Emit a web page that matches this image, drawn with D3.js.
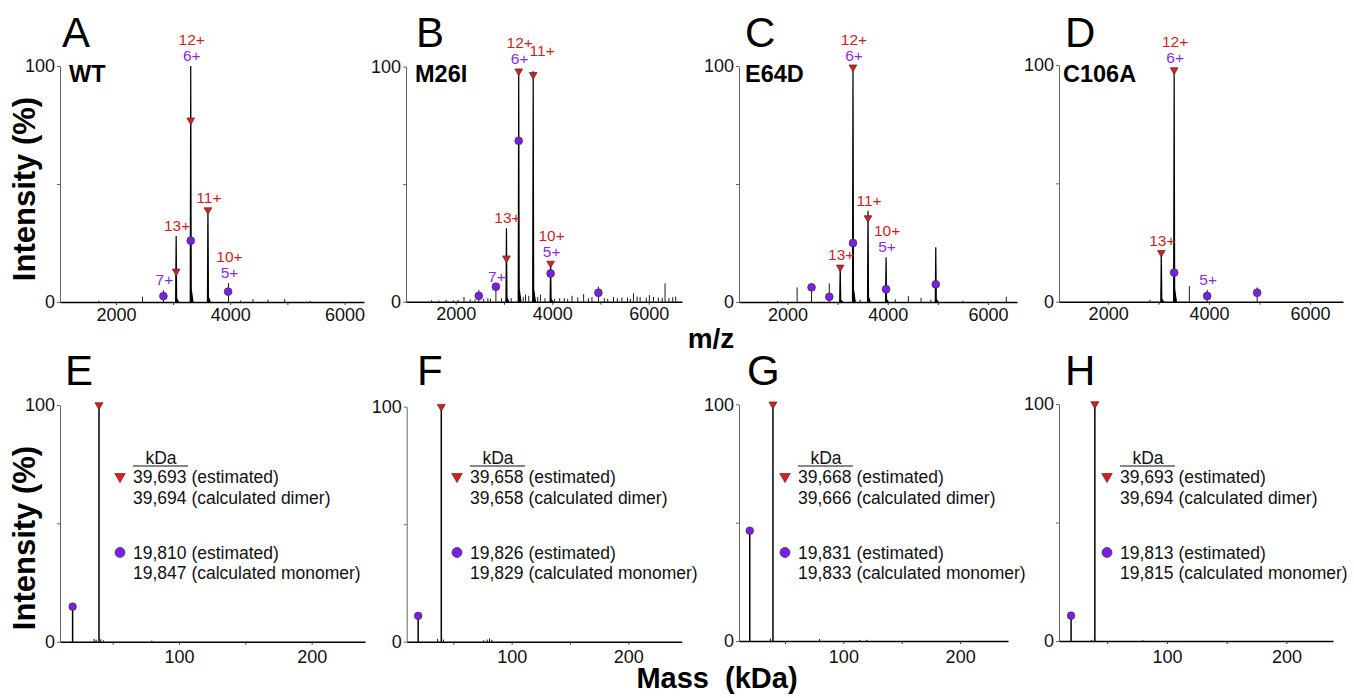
<!DOCTYPE html>
<html>
<head>
<meta charset="utf-8">
<script src="https://cdn.jsdelivr.net/npm/d3@7"></script>
<style>
  body { margin: 0; background: #fff; }
  svg { font-family: "Liberation Sans", Arial, sans-serif; }
</style>
</head>
<body>
<script>
// ---- data ----
const variants = ["WT", "M26I", "E64D", "C106A"];
const topLetters = ["A", "B", "C", "D"];
const bottomLetters = ["E", "F", "G", "H"];

// m/z spectra: [m/z, intensity %]
const wtPeaks = [[1700, 0.4], [2466, 2.2], [2831, 5], [3054, 28], [3309, 100], [3610, 39.7], [3970, 8],
  [4180, 0.6], [4398, 1.2], [4660, 1], [4953, 1.3], [5400, 0.4]];
const m26iPeaks = [[1500, 0.6], [1650, 0.5], [1800, 0.7], [1950, 0.6], [2050, 0.8], [2172, 2], [2300, 1],
  [2400, 0.9], [2479, 5], [2580, 1.2], [2667, 1.5], [2720, 1.3], [2833, 6.4], [2950, 1.5], [3052, 31.2],
  [3150, 1.5], [3306, 99], [3400, 2], [3446, 3], [3515, 2.5], [3606, 98], [3700, 2], [3756, 3], [3850, 1.5],
  [3967, 17], [4050, 1.2], [4155, 1.5], [4250, 1.5], [4320, 1.2], [4411, 2.5], [4530, 1.8], [4651, 3.2],
  [4750, 1.5], [4824, 2], [4958, 6.4], [5080, 1.5], [5150, 1.2], [5271, 2], [5350, 1.5], [5444, 1.8],
  [5560, 1.8], [5620, 1.2], [5684, 3.5], [5760, 2.2], [5822, 2], [5950, 1.7], [6014, 2.8], [6100, 2],
  [6200, 1.8], [6280, 1.6], [6339, 7.8], [6420, 1.5], [6498, 2], [6560, 2.2]];
const e64dPeaks = [[1800, 0.4], [2192, 6.2], [2480, 8], [2834, 7.9], [3052, 15.7], [3307, 100], [3450, 1],
  [3607, 38.7], [3967, 19], [4150, 1.2], [4412, 2.5], [4666, 1.8], [4860, 1], [4959, 23.2], [5500, 0.5],
  [6366, 2.2]];
const c106aPeaks = [[2830, 0.8], [3054, 21.5], [3309, 98.6], [3610, 6.6], [3964, 5], [4954, 6]];

// dimer (triangle) and monomer (circle) markers: [m/z, intensity %]
const wtDimer = [[3054, 13], [3309, 77], [3610, 39]];
const wtMonomer = [[2831, 2.5], [3309, 26], [3963, 4.4]];
const m26iDimer = [[3052, 18.5], [3306, 98], [3606, 96.5], [3967, 16.3]];
const m26iMonomer = [[2479, 2.5], [2833, 6.4], [3306, 68.4], [3967, 12], [4958, 3.8]];
const e64dDimer = [[3052, 14.7], [3307, 99.5], [3607, 35.6]];
const e64dMonomer = [[2480, 6.2], [2834, 2.2], [3307, 25], [3967, 5.4], [4959, 7.5]];
const c106aDimer = [[3054, 20.7], [3309, 97.9]];
const c106aMonomer = [[3309, 12.3], [3964, 2.4], [4954, 3.8]];

// charge labels: [m/z, dimer charge, monomer charge]
const wtCharges = [[3054, "13+", null], [3309, "12+", "6+"], [3610, "11+", null], [3970, "10+", "5+"], [2831, null, "7+"]];
const m26iCharges = [[3052, "13+", null], [3306, "12+", "6+"], [3606, "11+", null], [3967, "10+", "5+"], [2833, null, "7+"]];
const e64dCharges = [[3052, "13+", null], [3307, "12+", "6+"], [3607, "11+", null], [3967, "10+", "5+"]];
const c106aCharges = [[3054, "13+", null], [3309, "12+", "6+"], [3964, null, "5+"]];

// deconvoluted mass spectra (kDa)
const monomerMass = [19.810, 19.826, 19.831, 19.813];
const dimerMass = [39.693, 39.658, 39.668, 39.693];
const monomerIntensity = [14.8, 11, 46.6, 10.7];
const massNoise = [
  [[36, 1.2], [37.5, 0.8], [41, 1], [43, 0.6], [79.5, 0.5]],
  [[36.5, 1.2], [41.5, 0.9], [76, 0.6], [79, 0.9], [81, 1.3], [83, 0.8]],
  [[37.5, 1], [79.5, 0.8], [114, 0.4], [120, 0.5]],
  [[37, 0.5], [80, 0.3]]
];
const dimerEstimated = ["39,693", "39,658", "39,668", "39,693"];
const dimerCalculated = ["39,694", "39,658", "39,666", "39,694"];
const monomerEstimated = ["19,810", "19,826", "19,831", "19,813"];
const monomerCalculated = ["19,847", "19,829", "19,833", "19,815"];

const mzTicks = [2000, 3000, 4000, 5000, 6000];
const massTicks = [50, 100, 150, 200];

// ---- layout ----
const topFrames = [
  {left: 60, right: 364, top: 66, bottom: 302, lo: 1022, hi: 6340, letterX: 62, nameX: 69},
  {left: 406, right: 682, top: 66.5, bottom: 301.7, lo: 970, hi: 6690, letterX: 416, nameX: 415},
  {left: 739, right: 1017, top: 66, bottom: 302, lo: 1032, hi: 6580, letterX: 745, nameX: 745},
  {left: 1059, right: 1343, top: 65, bottom: 301.7, lo: 1026, hi: 6656, letterX: 1065, nameX: 1063}
];
const bottomFrames = [
  {left: 60, right: 365, top: 405, bottom: 641.7, lo: 10.3, hi: 240.2, letterX: 65, legendX: 133},
  {left: 406.7, right: 681.7, top: 406.7, bottom: 641.7, lo: 10, hi: 245.8, letterX: 417, legendX: 470},
  {left: 739, right: 1008, top: 404.3, bottom: 641, lo: 10.6, hi: 241, letterX: 747, legendX: 798},
  {left: 1059, right: 1333, top: 404, bottom: 641, lo: 9.7, hi: 239, letterX: 1065, legendX: 1120}
];
// label shifts (px) where the figure moves a label off its peak
const labelNudge = {"1:11+": [8, -10]};

const red = "#e31a1c", redText = "#cc1f1f";
const purple = "#7b1fe8", purpleText = "#8a2be2";

const svg = d3.select("body").append("svg")
  .attr("width", 1354)
  .attr("height", 698);

const triangle = d3.symbol().type(d3.symbolTriangle);

function axes(g, f, x, y, ticks, labelEvery, pad) {
  g.append("g")
    .attr("transform", `translate(${f.left},0)`)
    .call(d3.axisLeft(y).tickValues([0, 50, 100]).tickSize(3).tickSizeOuter(0).tickPadding(2)
      .tickFormat(d => d === 50 ? "" : d))
    .call(s => {
      s.attr("font-size", 18).attr("font-family", null);
      s.select(".domain").attr("stroke", "#666");
      s.selectAll(".tick line").attr("stroke", "#666");
      s.selectAll("text").attr("fill", "#111");
    });

  g.append("g")
    .attr("transform", `translate(0,${f.bottom})`)
    .call(d3.axisBottom(x).tickValues(ticks).tickSize(3).tickSizeOuter(0).tickPadding(pad)
      .tickFormat(d => d % labelEvery === 0 ? d : ""))
    .call(s => {
      s.attr("font-size", 18).attr("font-family", null);
      s.select(".domain").attr("stroke", "#000").attr("stroke-width", 1.6);
      s.selectAll(".tick line").attr("stroke", "#333");
      s.selectAll("text").attr("fill", "#111");
    });
}

function drawPeaks(g, peaks, x, y) {
  const base = y(0);
  g.append("g").selectAll("path")
    .data(peaks)
    .join("path")
    .attr("d", d => {
      const px = x(d[0]), py = y(d[1]);
      if (d[1] <= 12) return `M${px},${base}L${px},${py}`;
      // thin spike with a little tailing at the foot
      return `M${px - 0.5},${base}L${px},${py}L${px + 0.5},${base}Z` +
        `M${px},${base}L${px},${y(d[1] * 0.07)}L${px + 2.2},${base}Z`;
    })
    .attr("fill", "#000")
    .attr("stroke", "#000")
    .attr("stroke-width", d => d[1] > 12 ? 1.2 : 0.9);
}

function drawMarkers(g, dimer, monomer, x, y, triSize, r) {
  g.append("g").selectAll("path")
    .data(dimer)
    .join("path")
    .attr("d", triangle.size(triSize)())
    .attr("transform", d => `translate(${x(d[0])},${y(d[1])}) rotate(180)`)
    .attr("fill", red)
    .attr("stroke", "#333")
    .attr("stroke-width", 0.7);
  g.append("g").selectAll("circle")
    .data(monomer)
    .join("circle")
    .attr("cx", d => x(d[0]))
    .attr("cy", d => y(d[1]))
    .attr("r", r)
    .attr("fill", purple)
    .attr("stroke", "#333")
    .attr("stroke-width", 0.7);
}

// ---- m/z panels A-D ----
const mzPeaks = [wtPeaks, m26iPeaks, e64dPeaks, c106aPeaks];
const mzDimer = [wtDimer, m26iDimer, e64dDimer, c106aDimer];
const mzMonomer = [wtMonomer, m26iMonomer, e64dMonomer, c106aMonomer];
const mzCharges = [wtCharges, m26iCharges, e64dCharges, c106aCharges];

topFrames.forEach((f, i) => {
  const x = d3.scaleLinear().domain([f.lo, f.hi]).range([f.left, f.right]);
  const y = d3.scaleLinear().domain([0, 100]).range([f.bottom, f.top]);
  const g = svg.append("g");

  drawPeaks(g, mzPeaks[i], x, y);
  axes(g, f, x, y, mzTicks, 2000, 3);
  drawMarkers(g, mzDimer[i], mzMonomer[i], x, y, 26, 3.9);

  // charge-state labels, stacked above the peak top
  mzCharges[i].forEach(c => {
    const peak = mzPeaks[i].reduce((a, b) => Math.abs(b[0] - c[0]) < Math.abs(a[0] - c[0]) ? b : a);
    const nudge = labelNudge[i + ":" + (c[1] || c[2])] || [0, 0];
    const yy = y(peak[1]) - 5 + nudge[1];
    const lines = [];
    if (c[2]) lines.push([c[2], purpleText]);
    if (c[1]) lines.push([c[1], redText]);
    lines.forEach((l, k) => {
      g.append("text")
        .attr("x", x(c[0]) + 1 + nudge[0])
        .attr("y", yy - k * 16)
        .attr("text-anchor", "middle")
        .attr("font-size", 15.5)
        .attr("fill", l[1])
        .text(l[0]);
    });
  });

  g.append("text")
    .attr("x", f.letterX).attr("y", 46.5)
    .attr("font-size", 42)
    .text(topLetters[i]);

  g.append("text")
    .attr("x", f.nameX).attr("y", 82)
    .attr("font-size", 23.5)
    .attr("font-weight", "bold")
    .text(variants[i]);
});

// ---- deconvoluted mass panels E-H ----
bottomFrames.forEach((f, i) => {
  const x = d3.scaleLinear().domain([f.lo, f.hi]).range([f.left, f.right]);
  const y = d3.scaleLinear().domain([0, 100]).range([f.bottom, f.top]);
  const g = svg.append("g");

  const peaks = [[monomerMass[i], monomerIntensity[i]], [dimerMass[i], 100]].concat(massNoise[i]);
  g.append("g").selectAll("line")
    .data(peaks)
    .join("line")
    .attr("x1", d => x(d[0])).attr("x2", d => x(d[0]))
    .attr("y1", y(0)).attr("y2", d => y(d[1]))
    .attr("stroke", "#000")
    .attr("stroke-width", d => d[1] > 5 ? 1.5 : 1);

  axes(g, f, x, y, massTicks, 100, 6);
  drawMarkers(g, [[dimerMass[i], 100]], [[monomerMass[i], monomerIntensity[i]]], x, y, 28, 3.8);

  g.append("text")
    .attr("x", f.letterX).attr("y", 385)
    .attr("font-size", 42)
    .text(bottomLetters[i]);

  // legend
  const lx = f.legendX;
  const lg = g.append("g").attr("font-size", 17.5).attr("fill", "#111");
  lg.append("text").attr("x", lx + 28).attr("y", 464).attr("text-anchor", "middle").text("kDa");
  lg.append("line").attr("x1", lx).attr("x2", lx + 55).attr("y1", 466).attr("y2", 466)
    .attr("stroke", "#111").attr("stroke-width", 1.2);
  lg.append("text").attr("x", lx).attr("y", 483).text(dimerEstimated[i] + " (estimated)");
  lg.append("text").attr("x", lx).attr("y", 503.6).text(dimerCalculated[i] + " (calculated dimer)");
  lg.append("text").attr("x", lx).attr("y", 559).text(monomerEstimated[i] + " (estimated)");
  lg.append("text").attr("x", lx).attr("y", 578.6).text(monomerCalculated[i] + " (calculated monomer)");
  lg.append("path")
    .attr("d", triangle.size(48)())
    .attr("transform", `translate(${lx - 13},${476.5}) rotate(180)`)
    .attr("fill", red).attr("stroke", "#333").attr("stroke-width", 0.7);
  lg.append("circle")
    .attr("cx", lx - 13).attr("cy", 552.5).attr("r", 5)
    .attr("fill", purple).attr("stroke", "#333").attr("stroke-width", 0.7);
});

// ---- shared axis titles ----
svg.append("text")
  .attr("transform", "translate(35,189) rotate(-90)")
  .attr("text-anchor", "middle")
  .attr("font-size", 31)
  .attr("font-weight", "bold")
  .text("Intensity (%)");

svg.append("text")
  .attr("transform", "translate(35,538) rotate(-90)")
  .attr("text-anchor", "middle")
  .attr("font-size", 31)
  .attr("font-weight", "bold")
  .text("Intensity (%)");

svg.append("text")
  .attr("x", 711).attr("y", 348)
  .attr("text-anchor", "middle")
  .attr("font-size", 28)
  .attr("font-weight", "bold")
  .text("m/z");

svg.append("text")
  .attr("x", 717).attr("y", 688)
  .attr("text-anchor", "middle")
  .attr("font-size", 29)
  .attr("font-weight", "bold")
  .style("white-space", "pre")
  .text("Mass  (kDa)");
</script>
</body>
</html>
